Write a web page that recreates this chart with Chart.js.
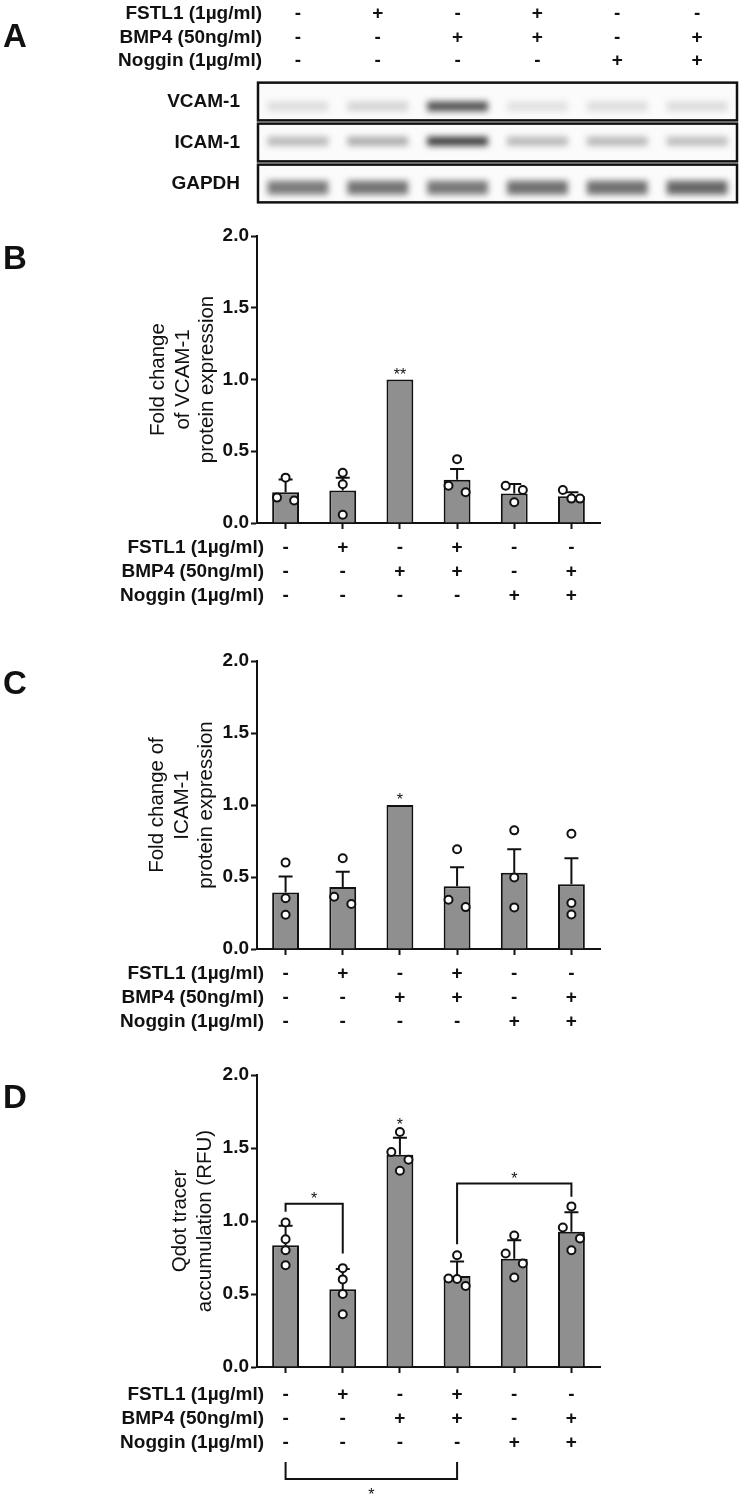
<!DOCTYPE html>
<html>
<head>
<meta charset="utf-8">
<title>FSTL1 / BMP4 / Noggin</title>
<style>
  html, body { margin: 0; padding: 0; background: #fff; }
  body { width: 742px; height: 1495px; position: relative; overflow: hidden; }
  canvas { position: absolute; left: 0; }
</style>
</head>
<body>
<canvas id="blot" width="742" height="210" style="top:0px"></canvas>
<canvas id="chartB" width="742" height="405" style="top:215px"></canvas>
<canvas id="chartC" width="742" height="415" style="top:625px"></canvas>
<canvas id="chartD" width="742" height="455" style="top:1040px"></canvas>
<script src="https://cdn.jsdelivr.net/npm/chart.js@4.4.1/dist/chart.umd.min.js"></script>
<script>
// treatment table, shared by every panel
var conditionRows = ['FSTL1 (1µg/ml)', 'BMP4 (50ng/ml)', 'Noggin (1µg/ml)'];
var fstl1  = ['-', '+', '-', '+', '-', '-'];
var bmp4   = ['-', '-', '+', '+', '-', '+'];
var noggin = ['-', '-', '-', '-', '+', '+'];

// A: western blot band darkness per lane (0 = none, 1 = black)
var blotRows  = ['VCAM-1', 'ICAM-1', 'GAPDH'];
var vcamBand  = [0.14, 0.18, 0.82, 0.12, 0.14, 0.15];
var icamBand  = [0.32, 0.38, 0.92, 0.32, 0.32, 0.30];
var gapdhBand = [0.62, 0.66, 0.64, 0.68, 0.68, 0.72];

// B: VCAM-1 fold change
var vcamMean = [0.214, 0.226, 1.0, 0.302, 0.205, 0.186];
var vcamSem  = [0.090, 0.090, 0, 0.074, 0.066, 0.028];
var vcamPts  = [[0.316, 0.177, 0.157], [0.35, 0.27, 0.058], [], [0.445, 0.26, 0.214], [0.26, 0.23, 0.145], [0.23, 0.17, 0.17]];
var vcamSide = [[0, -1, 1], [0, 0, 0], [], [0, -1, 1], [-1, 1, 0], [-1, 0, 1]];
var vcamStars = [{ bar: 2, y: 1.06, text: '**' }];

// C: ICAM-1 fold change
var icamMean = [0.393, 0.43, 1.0, 0.436, 0.529, 0.45];
var icamSem  = [0.110, 0.106, 0, 0.132, 0.164, 0.180];
var icamPts  = [[0.60, 0.353, 0.238], [0.63, 0.363, 0.312], [], [0.693, 0.342, 0.291], [0.824, 0.497, 0.289], [0.80, 0.32, 0.24]];
var icamSide = [[0, 0, 0], [0, -1, 1], [], [0, -1, 1], [0, 0, 0], [0, 0, 0]];
var icamStars = [{ bar: 2, y: 1.062, text: '*' }];

// D: Qdot tracer accumulation
var qdotMean = [0.834, 0.533, 1.454, 0.624, 0.741, 0.926];
var qdotSem  = [0.133, 0.139, 0.116, 0.098, 0.128, 0.134];
var qdotPts  = [[0.99, 0.875, 0.80, 0.697], [0.677, 0.60, 0.50, 0.361], [1.61, 1.472, 1.42, 1.344],
                [0.766, 0.606, 0.603, 0.555], [0.90, 0.777, 0.709, 0.613], [1.10, 0.955, 0.88, 0.80]];
var qdotSide = [[0, 0, 0, 0], [0, 0, 0, 0], [0, -1, 1, 0], [0, -1, 0, 1], [0, -1, 1, 0], [0, -1, 1, 0]];
var qdotStars = [{ bar: 2, y: 1.687, text: '*' }];
var qdotBrackets = [{ from: 0, to: 1, y: 1.118, ends: [1.063, 0.777], star: 1.175 },
                    { from: 3, to: 5, y: 1.257, ends: [0.84, 1.166], star: 1.314 }];
var qdotBelow = [{ from: 0, to: 3 }];

var FONT = '"Liberation Sans", Arial, sans-serif';
var INK = '#111';
var ROW_H = 24;
var SPREAD = 0.15;

function fontStr(size, bold) { return (bold ? 'bold ' : '') + size + 'px ' + FONT; }

// ---------- A: blot ----------
var bandMid  = [0.62, 0.47, 0.6];
var bandHalf = [0.12, 0.11, 0.17];
var blotBands = [vcamBand, icamBand, gapdhBand];

var blotDecor = {
  id: 'blotDecor',
  beforeDatasetsDraw: function (chart) {
    var ctx = chart.ctx, a = chart.chartArea, y = chart.scales.y;
    ctx.save();
    ctx.fillStyle = '#fbfbfb';
    blotRows.forEach(function (r, i) {
      var t = y.getPixelForValue(i + 0.04), b = y.getPixelForValue(i + 0.96);
      ctx.fillRect(a.left, t, a.right - a.left, b - t);
    });
    ctx.filter = 'blur(3px)';
  },
  afterDatasetsDraw: function (chart) {
    chart.ctx.restore();
  },
  afterDraw: function (chart) {
    var ctx = chart.ctx, a = chart.chartArea, x = chart.scales.x, y = chart.scales.y;
    ctx.save();
    ctx.strokeStyle = INK;
    ctx.lineWidth = 2.5;
    blotRows.forEach(function (r, i) {
      var t = y.getPixelForValue(i + 0.04), b = y.getPixelForValue(i + 0.96);
      ctx.strokeRect(a.left, t, a.right - a.left, b - t);
    });
    ctx.fillStyle = INK;
    ctx.font = fontStr(19, true);
    ctx.textBaseline = 'middle';
    ctx.textAlign = 'right';
    blotRows.forEach(function (r, i) {
      ctx.fillText(r, 240, y.getPixelForValue(i + 0.5));
    });
    var rows = [fstl1, bmp4, noggin];
    conditionRows.forEach(function (t, k) {
      var yy = 14 + k * 23.5;
      ctx.textAlign = 'right';
      ctx.fillText(t, 262, yy);
      ctx.textAlign = 'center';
      rows[k].forEach(function (s, i) { ctx.fillText(s, x.getPixelForValue(i), yy); });
    });
    ctx.textAlign = 'left';
    ctx.font = fontStr(33, true);
    ctx.fillText('A', 3, 38);
    ctx.restore();
  }
};

new Chart(document.getElementById('blot'), {
  type: 'bar',
  data: {
    labels: fstl1.map(function (v, i) { return 'lane ' + (i + 1); }),
    datasets: blotBands.map(function (band, r) {
      return {
        data: band.map(function () { return [r + bandMid[r] - bandHalf[r], r + bandMid[r] + bandHalf[r]]; }),
        backgroundColor: band.map(function (v) { return 'rgba(45,45,45,' + v + ')'; }),
        borderWidth: 0,
        grouped: false,
        barPercentage: 0.76,
        categoryPercentage: 1
      };
    })
  },
  options: {
    responsive: false,
    animation: false,
    events: [],
    layout: { padding: { left: 258, right: 5, top: 81, bottom: 6 } },
    plugins: { legend: { display: false }, tooltip: { enabled: false } },
    scales: {
      x: { display: false, offset: true },
      y: { display: false, min: 0, max: 3, reverse: true }
    }
  },
  plugins: [blotDecor]
});

// ---------- B, C, D: bar panels ----------
function decor(o) {
  return {
    id: 'panelDecor',
    afterDatasetDraw: function (chart, args) {
      if (args.index !== 0) return;
      var ctx = chart.ctx, y = chart.scales.y;
      ctx.save();
      ctx.strokeStyle = INK;
      ctx.lineWidth = 2;
      args.meta.data.forEach(function (bar, i) {
        var s = o.sem[i];
        if (!s) return;
        var top = y.getPixelForValue(o.mean[i] + s);
        ctx.beginPath();
        ctx.moveTo(bar.x, bar.y);
        ctx.lineTo(bar.x, top);
        ctx.moveTo(bar.x - 7, top);
        ctx.lineTo(bar.x + 7, top);
        ctx.stroke();
      });
      ctx.restore();
    },
    afterDraw: function (chart) {
      var ctx = chart.ctx, a = chart.chartArea, x = chart.scales.x, y = chart.scales.y;
      ctx.save();
      ctx.fillStyle = INK;
      ctx.strokeStyle = INK;
      ctx.lineWidth = 2;
      ctx.textBaseline = 'middle';
      ctx.textAlign = 'left';
      ctx.font = fontStr(33, true);
      ctx.fillText(o.letter, 3, a.top + 24);

      ctx.font = fontStr(19, true);
      ctx.textAlign = 'right';
      conditionRows.forEach(function (t, k) {
        ctx.fillText(t, 264, a.bottom + 6 + o.tickPad + ROW_H * (k + 0.5));
      });

      ctx.font = fontStr(16, false);
      ctx.textAlign = 'center';
      ctx.textBaseline = 'alphabetic';
      o.stars.forEach(function (s) {
        ctx.fillText(s.text, x.getPixelForValue(s.bar), y.getPixelForValue(s.y) + 9);
      });
      (o.brackets || []).forEach(function (b) {
        var x1 = x.getPixelForValue(b.from), x2 = x.getPixelForValue(b.to), yy = y.getPixelForValue(b.y);
        ctx.beginPath();
        ctx.moveTo(x1, y.getPixelForValue(b.ends[0]));
        ctx.lineTo(x1, yy);
        ctx.lineTo(x2, yy);
        ctx.lineTo(x2, y.getPixelForValue(b.ends[1]));
        ctx.stroke();
        ctx.fillText('*', (x1 + x2) / 2, y.getPixelForValue(b.star) + 9);
      });
      (o.below || []).forEach(function (b) {
        var x1 = x.getPixelForValue(b.from), x2 = x.getPixelForValue(b.to);
        var y0 = a.bottom + 95, y1 = a.bottom + 112;
        ctx.beginPath();
        ctx.moveTo(x1, y0);
        ctx.lineTo(x1, y1);
        ctx.lineTo(x2, y1);
        ctx.lineTo(x2, y0);
        ctx.stroke();
        ctx.fillText('*', (x1 + x2) / 2, y1 + 21);
      });
      ctx.restore();
    }
  };
}

function barPanel(id, o) {
  var labels = fstl1.map(function (v, i) { return [fstl1[i], bmp4[i], noggin[i]]; });
  var pts = [];
  o.pts.forEach(function (grp, i) {
    grp.forEach(function (v, k) { pts.push({ x: i + o.side[i][k] * SPREAD, y: v }); });
  });
  return new Chart(document.getElementById(id), {
    type: 'bar',
    data: {
      labels: labels,
      datasets: [
        {
          type: 'bar', data: o.mean, xAxisID: 'x', yAxisID: 'y', order: 2,
          backgroundColor: '#8f8f8f', borderColor: INK, borderWidth: 2,
          grouped: false, categoryPercentage: 1, barPercentage: 0.47
        },
        {
          type: 'scatter', data: pts, xAxisID: 'xp', yAxisID: 'y', order: 1,
          pointRadius: 4, pointBorderWidth: 2, pointBackgroundColor: '#fff', pointBorderColor: INK
        }
      ]
    },
    options: {
      responsive: false,
      animation: false,
      events: [],
      layout: { padding: { left: 0, right: 142, top: o.padTop, bottom: 0 } },
      plugins: { legend: { display: false }, tooltip: { enabled: false } },
      scales: {
        x: {
          offset: true,
          grid: { offset: false, drawOnChartArea: false, drawTicks: true, tickLength: 6, tickColor: INK, tickWidth: 2 },
          border: { display: true, color: INK, width: 2 },
          ticks: { color: INK, padding: o.tickPad, autoSkip: false, maxRotation: 0,
                   font: { family: FONT, size: 19, weight: 'bold', lineHeight: ROW_H / 19 } },
          afterFit: function (s) { s.height = o.axisH; }
        },
        xp: { type: 'linear', axis: 'x', display: false, offset: false, min: -0.5, max: 5.5 },
        y: {
          min: 0, max: 2,
          grid: { drawOnChartArea: false, drawTicks: true, tickLength: 6, tickColor: INK, tickWidth: 2 },
          border: { display: true, color: INK, width: 2 },
          ticks: { stepSize: 0.5, color: INK, padding: 2,
                   font: { family: FONT, size: 19, weight: 'bold' },
                   callback: function (v) { return v.toFixed(1); } },
          title: { display: true, text: o.title, color: INK,
                   font: { family: FONT, size: 20.5, lineHeight: 1.2 },
                   padding: { top: o.titlePad, bottom: 0 } },
          afterFit: function (s) { s.width = 257; }
        }
      }
    },
    plugins: [decor(o)]
  });
}

barPanel('chartB', {
  letter: 'B', mean: vcamMean, sem: vcamSem, pts: vcamPts, side: vcamSide, stars: vcamStars,
  title: ['Fold change', 'of VCAM-1', 'protein expression'], titlePad: 146,
  padTop: 21, axisH: 97, tickPad: 7
});
barPanel('chartC', {
  letter: 'C', mean: icamMean, sem: icamSem, pts: icamPts, side: icamSide, stars: icamStars,
  title: ['Fold change of', 'ICAM-1', 'protein expression'], titlePad: 145,
  padTop: 36, axisH: 91, tickPad: 7
});
barPanel('chartD', {
  letter: 'D', mean: qdotMean, sem: qdotSem, pts: qdotPts, side: qdotSide, stars: qdotStars,
  brackets: qdotBrackets, below: qdotBelow,
  title: ['Qdot tracer', 'accumulation (RFU)'], titlePad: 168,
  padTop: 35, axisH: 128, tickPad: 10
});
</script>
</body>
</html>
